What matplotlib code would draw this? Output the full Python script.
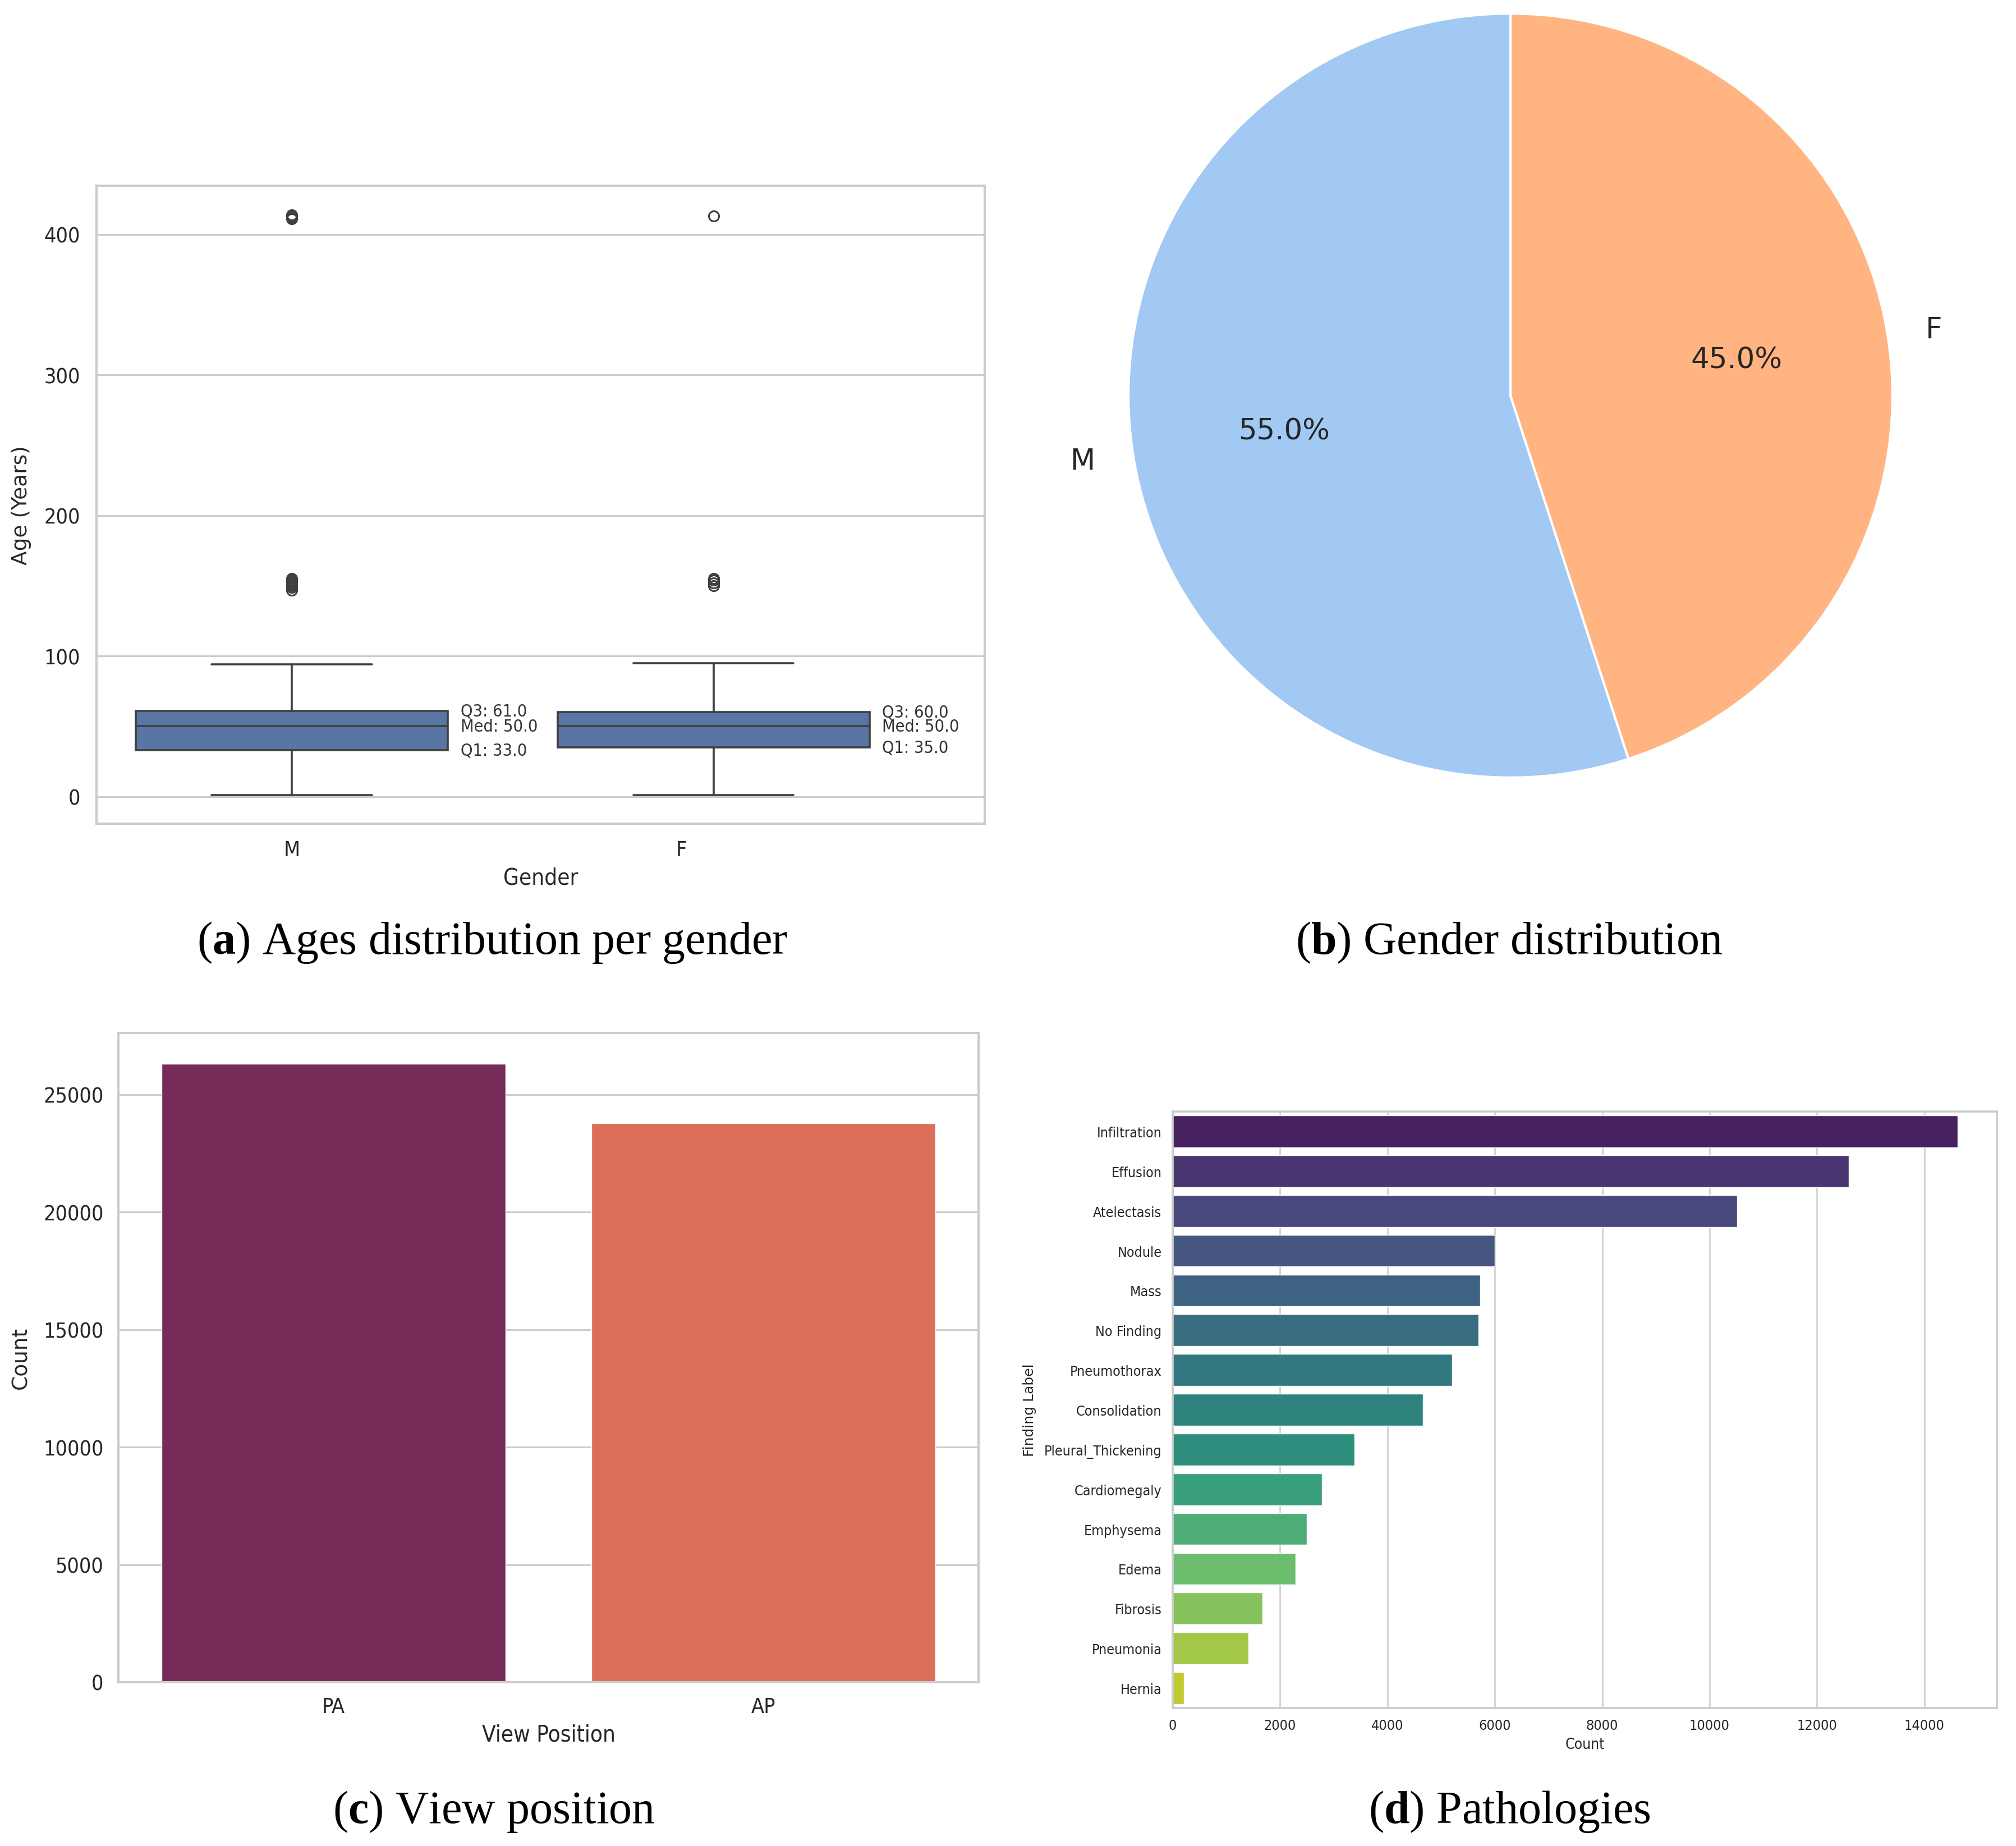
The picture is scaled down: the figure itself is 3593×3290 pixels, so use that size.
import matplotlib
matplotlib.use("Agg")
import matplotlib.pyplot as plt
import seaborn as sns
from matplotlib import font_manager as fm

# ---- data ----
genders = ["M", "F"]
age_q1 = [33.0, 35.0]
age_med = [50.0, 50.0]
age_q3 = [61.0, 60.0]
age_whislo = [1, 1]
age_whishi = [94, 95]
age_fliers_m = [147, 149, 150, 151, 152, 153, 154, 155, 411, 412, 413, 414]
age_fliers_f = [150, 152, 154, 155, 413]

gender_share = [55.0, 45.0]

view_positions = ["PA", "AP"]
view_counts = [26300, 23780]

findings = ["Infiltration", "Effusion", "Atelectasis", "Nodule", "Mass", "No Finding",
            "Pneumothorax", "Consolidation", "Pleural_Thickening", "Cardiomegaly",
            "Emphysema", "Edema", "Fibrosis", "Pneumonia", "Hernia"]
finding_counts = [14620, 12590, 10510, 6000, 5730, 5700, 5200, 4665, 3385,
                  2775, 2500, 2285, 1675, 1410, 205]

captions = [("a", "Ages distribution per gender"), ("b", "Gender distribution"),
            ("c", "View position"), ("d", "Pathologies")]

sns.set_theme(style="whitegrid")

# the panels in the reference are squeezed sideways: use a narrow face if there is one
narrow_family, narrow_stretch = "DejaVu Sans", "normal"
for f in fm.fontManager.ttflist:
    if f.name == "DejaVu Sans" and f.stretch == "condensed":
        narrow_stretch = "condensed"
        break
else:
    if any(f.name == "Liberation Sans Narrow" for f in fm.fontManager.ttflist):
        narrow_family = "Liberation Sans Narrow"

plt.rcParams["font.family"] = [narrow_family, "DejaVu Sans"]
plt.rcParams["font.stretch"] = narrow_stretch
plt.rcParams["mathtext.fontset"] = "custom"
plt.rcParams["mathtext.rm"] = "Liberation Serif"
plt.rcParams["mathtext.bf"] = "Liberation Serif:bold"

W, H = 3593, 3291
fig = plt.figure(figsize=(W / 100, H / 100), dpi=100)


def place(l, t, r, b):
    return [l / W, 1 - b / H, (r - l) / W, (b - t) / H]


def style_axes(ax, spine_lw, grid_lw, grid_axis):
    for s in ax.spines.values():
        s.set_color("0.8")
        s.set_linewidth(spine_lw)
    ax.grid(False)
    ax.grid(True, axis=grid_axis, color="0.8", linewidth=grid_lw)


text_c = "0.15"
line_c = "#3f3f3f"
ylab_font = dict(family="DejaVu Sans", stretch="normal")

# (a) ages per gender
ax = fig.add_axes(place(172, 332, 1755, 1469))
box_c = sns.desaturate(sns.color_palette("deep")[0], 0.75)
fliers = [age_fliers_m, age_fliers_f]
stats = []
for i, g in enumerate(genders):
    stats.append(dict(label=g, q1=age_q1[i], med=age_med[i], q3=age_q3[i],
                      whislo=age_whislo[i], whishi=age_whishi[i], fliers=fliers[i]))
lw = 2.6
ax.bxp(stats, positions=[0, 1], widths=0.74, capwidths=0.38, patch_artist=True,
       boxprops=dict(facecolor=box_c, edgecolor=line_c, linewidth=lw),
       medianprops=dict(color=line_c, linewidth=lw),
       whiskerprops=dict(color=line_c, linewidth=lw),
       capprops=dict(color=line_c, linewidth=lw),
       flierprops=dict(marker="o", markerfacecolor="none", markeredgecolor=line_c,
                       markersize=13, markeredgewidth=2.2))
for i in range(len(genders)):
    for name, v in (("Q3", age_q3[i]), ("Med", age_med[i]), ("Q1", age_q1[i])):
        ax.text(i + 0.4, v, f"{name}: {v:.1f}", ha="left", va="center",
                fontsize=22, color="0.2")
ax.set_xlim(-0.463, 1.643)
ax.set_ylim(-19.3, 434.7)
ax.set_yticks(range(0, 401, 100))
ax.set_xticks([0, 0.924], genders)
style_axes(ax, 3.0, 2.2, "y")
ax.tick_params(labelsize=27, length=0, pad=21, labelcolor=text_c)
ax.set_xlabel("Gender", fontsize=29, color=text_c, labelpad=8)
ax.set_ylabel("Age (Years)", fontsize=27, color=text_c, labelpad=16, **ylab_font)

# (b) gender pie
axp = fig.add_axes(place(1841, -145, 3543, 1557))
pie_colors = sns.color_palette("pastel")[:2]
axp.pie(gender_share, labels=genders, autopct="%1.1f%%", startangle=90,
        colors=pie_colors, wedgeprops=dict(edgecolor="white", linewidth=3),
        textprops=dict(fontsize=37, color=text_c, family="DejaVu Sans", stretch="normal"))
axp.set_xlim(-1.25, 1.25)
axp.set_ylim(-1.25, 1.25)
axp.set_aspect("equal")

# (c) view position
axc = fig.add_axes(place(211, 1842, 1744, 2999))
rocket = [sns.desaturate(c, 0.75) for c in sns.color_palette("rocket", 2)]
axc.bar(range(len(view_positions)), view_counts, width=0.8, color=rocket)
axc.set_xlim(-0.5, 1.5)
axc.set_ylim(0, max(view_counts) * 1.05)
axc.set_xticks(range(len(view_positions)), view_positions)
axc.set_yticks(range(0, 25001, 5000))
style_axes(axc, 3.0, 2.2, "y")
axc.tick_params(labelsize=27, length=0, pad=19, labelcolor=text_c)
axc.set_xlabel("View Position", fontsize=29, color=text_c, labelpad=8)
axc.set_ylabel("Count", fontsize=27, color=text_c, labelpad=16, **ylab_font)

# (d) pathologies
axd = fig.add_axes(place(2090, 1982, 3559, 3045))
viridis = [sns.desaturate(c, 0.75) for c in sns.color_palette("viridis", len(findings))]
axd.barh(range(len(findings)), finding_counts, height=0.8, color=viridis)
axd.set_ylim(len(findings) - 0.5, -0.5)
axd.set_xlim(0, max(finding_counts) * 1.05)
axd.set_yticks(range(len(findings)), findings)
axd.set_xticks(range(0, 14001, 2000))
style_axes(axd, 2.6, 1.8, "x")
axd.tick_params(labelsize=18, length=0, pad=14, labelcolor=text_c)
axd.set_xlabel("Count", fontsize=19, color=text_c, labelpad=6)
axd.set_ylabel("Finding Label", fontsize=18, color=text_c, labelpad=10, **ylab_font)

# sub-figure captions
cap_pos = [(878, 1700), (2690, 1700), (880, 3249), (2690, 3249)]
for (letter, txt), (x, y) in zip(captions, cap_pos):
    fig.text(x / W, 1 - y / H, rf"($\mathbf{{{letter}}}$) {txt}", ha="center",
             va="baseline", fontsize=59, family="Liberation Serif", stretch="normal",
             color="black")

fig.savefig("out.png", dpi=100)
